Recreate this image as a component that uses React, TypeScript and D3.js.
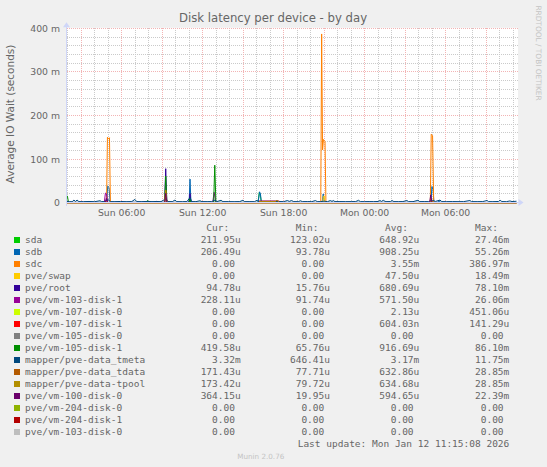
import React from "react";
import * as d3 from "d3";

// ---------- DATA ----------
const names = [
  "sda", "sdb", "sdc", "pve/swap", "pve/root", "pve/vm-103-disk-1",
  "pve/vm-107-disk-0", "pve/vm-107-disk-1", "pve/vm-105-disk-0", "pve/vm-105-disk-1",
  "mapper/pve-data_tmeta", "mapper/pve-data_tdata", "mapper/pve-data-tpool",
  "pve/vm-100-disk-0", "pve/vm-204-disk-0", "pve/vm-204-disk-1", "pve/vm-103-disk-0",
];
const colors = [
  "#00CC00", "#0066B3", "#FF8000", "#FFCC00", "#330099", "#990099",
  "#CCFF00", "#FF0000", "#808080", "#008F00", "#00487D", "#B35A00",
  "#B38F00", "#6B006B", "#8FB300", "#B30000", "#BEBEBE",
];
const curVals = ["211.95u", "206.49u", "0.00", "0.00", "94.78u", "228.11u", "0.00", "0.00", "0.00", "419.58u", "3.32m", "171.43u", "173.42u", "364.15u", "0.00", "0.00", "0.00"];
const minVals = ["123.02u", "93.78u", "0.00", "0.00", "15.76u", "91.74u", "0.00", "0.00", "0.00", "65.76u", "646.41u", "77.71u", "79.72u", "19.95u", "0.00", "0.00", "0.00"];
const avgVals = ["648.92u", "908.25u", "3.55m", "47.50u", "680.69u", "571.50u", "2.13u", "604.03n", "0.00", "916.69u", "3.17m", "632.86u", "634.68u", "594.65u", "0.00", "0.00", "0.00"];
const maxVals = ["27.46m", "55.26m", "386.97m", "18.49m", "78.10m", "26.06m", "451.06u", "141.29u", "0.00", "86.10m", "11.75m", "28.85m", "28.85m", "22.39m", "0.00", "0.00", "0.00"];

// series: [minutes since start, value in ms]
const sda: [number, number][] = [[0, 0.5], [540, 0.5], [545, 1], [549, 11], [553, 0.8], [851, 0.6], [857, 24], [861, 19], [866, 0.6], [1620, 0.6], [1624, 3], [1628, 0.5], [2000, 0.3]];
const sdb: [number, number][] = [[0, 0.8], [175, 0.8], [179, 1.5], [183, 38], [189, 35], [194, 1], [540, 0.8], [545, 2], [549, 54], [553, 2], [556, 0.8], [852, 0.8], [858, 25], [862, 20], [866, 0.8], [1136, 0.8], [1141, 20], [1146, 1], [1616, 0.8], [1620, 2], [1624, 37], [1629, 30], [1633, 1], [1650, 0.9], [1656, 5], [1661, 0.8], [2000, 0.5]];
const sdc: [number, number][] = [[0, 0], [178, 0], [182, 150], [186, 146], [191, 149], [195, 0], [1130, 0], [1134, 387], [1138, 121], [1142, 145], [1149, 140], [1153, 0], [1617, 0], [1621, 157], [1627, 154], [1632, 0], [2000, 0]];
const swap: [number, number][] = [[0, 0], [1138, 0], [1141, 14], [1145, 16], [1148, 0], [2000, 0]];
const root: [number, number][] = [[0, 0.5], [430, 0.5], [436, 2], [441, 78], [446, 2], [450, 0.5], [540, 0.5], [545, 3], [549, 21], [553, 2], [556, 0.5], [2000, 0.1]];
const vm103d1: [number, number][] = [[0, 0.5], [168, 0.5], [173, 22], [178, 20], [183, 0.6], [395, 0.5], [401, 3], [406, 0.5], [436, 0.5], [441, 10], [446, 0.5], [650, 0.5], [656, 24], [664, 0.5], [850, 0.5], [856, 4], [900, 4], [945, 4], [950, 0.5], [1975, 0.5], [1980, 2], [1986, 0.5], [2000, 0.2]];
const vm107d0: [number, number][] = [[0, 0], [2000, 0]];
const vm107d1: [number, number][] = [[0, 0], [2000, 0]];
const vm105d0: [number, number][] = [[0, 0], [2000, 0]];
const vm105d1: [number, number][] = [[0, 15], [4, 15], [9, 0.5], [355, 0.5], [360, 5], [366, 0.5], [436, 0.5], [441, 61], [446, 0.5], [545, 0.5], [549, 10], [553, 0.5], [654, 0.5], [659, 86], [664, 0.5], [2000, 0.4]];
const tmeta: [number, number][] = [[0, 2.8], [12, 2.5], [25, 2.2], [33, 6], [40, 3], [47, 6], [55, 2.5], [75, 2.4], [100, 2.8], [125, 2.3], [149, 4.5], [156, 2.5], [170, 2.6], [185, 7], [195, 2.5], [215, 2.4], [240, 2.8], [265, 2.3], [290, 2.6], [304, 7.5], [312, 2.6], [335, 2.4], [362, 3], [380, 2.5], [402, 2.8], [420, 2.4], [442, 9], [450, 2.6], [470, 2.4], [482, 6], [490, 2.5], [515, 2.3], [535, 2.6], [549, 11.75], [556, 2.6], [575, 2.4], [593, 4.5], [602, 2.5], [625, 2.4], [645, 2.6], [660, 6], [668, 2.5], [687, 5.5], [695, 2.4], [720, 2.5], [745, 2.3], [770, 2.6], [784, 5.5], [792, 2.4], [815, 2.5], [835, 2.4], [847, 5.5], [853, 2.6], [870, 2.5], [895, 2.6], [920, 2.4], [945, 2.7], [965, 2.4], [982, 5], [990, 3], [1000, 5], [1010, 2.5], [1030, 2.4], [1040, 4.5], [1048, 2.5], [1070, 2.6], [1090, 2.4], [1107, 5], [1114, 2.5], [1130, 2.6], [1145, 3.5], [1160, 2.4], [1173, 5], [1180, 3], [1186, 5], [1193, 2.5], [1215, 2.6], [1240, 2.4], [1265, 2.5], [1285, 2.6], [1298, 5.5], [1306, 2.5], [1325, 2.4], [1345, 2.6], [1365, 2.4], [1385, 2.8], [1393, 5], [1400, 3], [1408, 5.5], [1416, 3], [1424, 2.5], [1440, 2.6], [1447, 5], [1455, 2.5], [1475, 2.4], [1495, 2.6], [1513, 5], [1520, 2.5], [1540, 2.4], [1562, 5.5], [1570, 2.5], [1590, 2.6], [1610, 2.4], [1624, 6], [1640, 3], [1660, 6], [1668, 2.5], [1690, 2.4], [1715, 2.6], [1740, 2.4], [1765, 2.5], [1793, 5], [1800, 2.5], [1825, 2.4], [1850, 2.6], [1869, 5], [1876, 2.5], [1895, 2.4], [1920, 2.8], [1927, 5.5], [1935, 2.6], [1955, 2.4], [1971, 4], [1980, 2.6], [2000, 3.3]];
const tdata: [number, number][] = [[0, 0.3], [436, 0.3], [441, 28], [446, 0.3], [855, 0.3], [858, 3], [930, 3], [935, 6], [940, 3], [948, 0.3], [1619, 0.3], [1623, 5], [1627, 0.3], [2000, 0.2]];
const tpool: [number, number][] = [[0, 0.3], [436, 0.3], [441, 28.8], [446, 0.3], [855, 0.3], [858, 3], [930, 3], [935, 6], [940, 3], [948, 0.3], [1619, 0.3], [1623, 5], [1627, 0.3], [2000, 0.2]];
const vm100d0: [number, number][] = [[0, 0.5], [172, 0.5], [177, 10], [182, 0.5], [436, 0.5], [441, 21.5], [446, 0.5], [1614, 0.5], [1619, 18], [1624, 0.5], [2000, 0.4]];
const vm204d0: [number, number][] = [[0, 0], [2000, 0]];
const vm204d1: [number, number][] = [[0, 0], [2000, 0]];
const vm103d0: [number, number][] = [[0, 0], [2000, 0]];

const seriesData = [sda, sdb, sdc, swap, root, vm103d1, vm107d0, vm107d1, vm105d0, vm105d1, tmeta, tdata, tpool, vm100d0, vm204d0, vm204d1, vm103d0];

const yTickValues = [0, 100, 200, 300, 400];
const xLabelHours = 6;
const startTime = new Date(2026, 0, 11, 1, 55, 8);
const endTime = new Date(2026, 0, 12, 11, 15, 8);

// ---------- LAYOUT ----------
const W = 547, H = 467;
const L = 66.5, R = 516.5, T = 28.3, B = 202.7;
const SANS = "'DejaVu Sans', sans-serif";
const MONO = "'DejaVu Sans Mono', monospace";
const TXT = "#666666";
const MINOR = "#CACACA";
const MAJOR = "#F2B4B4";
const AXIS = "#CFD6F8";

export default function App() {
  const x = d3.scaleTime().domain([startTime, endTime]).range([L, R]);
  const y = d3.scaleLinear().domain([0, 400]).range([B, T]);
  const toDate = (m: number) => new Date(startTime.getTime() + m * 60000);
  const line = d3.line<[number, number]>().x((d) => x(toDate(d[0]))).y((d) => y(d[1]));

  const minorY = d3.range(0, 401, 20);
  const hoursMinor = d3.timeHour.every(1)!.range(startTime, endTime);
  const hoursMajor = d3.timeHour.every(3)!.range(startTime, endTime);
  const hoursLabel = d3.timeHour.every(xLabelHours)!.range(startTime, endTime);
  const fmt = d3.timeFormat("%a %H:%M");

  const cw = 5.72;
  const colEnds = [240.7, 330, 419.3, 509.3];
  const headers = ["Cur:", "Min:", "Avg:", "Max:"];
  const cols = [curVals, minVals, avgVals, maxVals];
  const rowY = (i: number) => 243 + 12 * i;
  const valEnd = (s: string, c: number) => (/[a-zA-Z]$/.test(s) ? colEnds[c] : colEnds[c] - cw);
  const py = (v: number) => Math.floor(y(v)) + 0.5;
  const px = (h: Date) => Math.floor(x(h)) + 0.5;

  return (
    <svg width={W} height={H} style={{ position: "absolute", left: 0, top: 0 }} xmlns="http://www.w3.org/2000/svg">
      <rect x={0} y={0} width={W} height={H} fill="#F0F0F0" />
      <rect x={L} y={T - 0.5} width={R - L + 1.5} height={B - T + 0.5} fill="#FFFFFF" />
      <g shapeRendering="crispEdges">
        {minorY.filter((v) => v % 100 !== 0).map((v) => (
          <line key={"my" + v} x1={L} x2={R + 1.5} y1={py(v)} y2={py(v)} stroke={MINOR} strokeDasharray="1,1" />
        ))}
        {hoursMinor.filter((h) => h.getHours() % 3 !== 0).map((h) => (
          <line key={"mx" + h.getTime()} x1={px(h)} x2={px(h)} y1={T} y2={B} stroke={MINOR} strokeDasharray="1,1" />
        ))}
        {yTickValues.map((v) => (
          <line key={"My" + v} x1={L} x2={R + 1.5} y1={py(v)} y2={py(v)} stroke={MAJOR} strokeDasharray="1,1" />
        ))}
        {hoursMajor.map((h) => (
          <line key={"Mx" + h.getTime()} x1={px(h)} x2={px(h)} y1={T} y2={B} stroke={MAJOR} strokeDasharray="1,1" />
        ))}
      </g>
      {seriesData.map((s, i) => (
        <path key={"s" + i} d={line(s) || ""} fill="none" stroke={colors[i]} strokeWidth={1} />
      ))}
      <g shapeRendering="crispEdges">
        <line x1={L} x2={R + 3} y1={py(0)} y2={py(0)} stroke={AXIS} />
        <line x1={Math.floor(L) + 0.5} x2={Math.floor(L) + 0.5} y1={B + 3} y2={T - 4} stroke={AXIS} />
      </g>
      <path d={`M${R + 2},${py(0) - 3.5} L${R + 7},${py(0)} L${R + 2},${py(0) + 3.5} Z`} fill={AXIS} />
      <path d={`M${L - 3.5},${T - 1} L${L},${T - 6} L${L + 3.5},${T - 1} Z`} fill={AXIS} />
      {yTickValues.map((v) => (
        <text key={"yl" + v} x={60} y={y(v) + 3.4} textAnchor="end" fontFamily={SANS} fontSize={9.3} fill={TXT}>
          {v === 0 ? "0" : `${v} m`}
        </text>
      ))}
      {hoursLabel.map((h) => (
        <text key={"xl" + h.getTime()} x={x(h)} y={215.5} textAnchor="middle" fontFamily={SANS} fontSize={9.3} fill={TXT}>
          {fmt(h)}
        </text>
      ))}
      <text x={273} y={22} textAnchor="middle" fontFamily={SANS} fontSize={11.7} fill={TXT}>
        Disk latency per device - by day
      </text>
      <text transform={`translate(14,114) rotate(-90)`} textAnchor="middle" fontFamily={SANS} fontSize={10.5} fill={TXT}>
        Average IO Wait (seconds)
      </text>
      <text transform={`translate(535.5,53) rotate(90)`} textAnchor="middle" fontFamily={SANS} fontSize={7.4} fill="#C4C4C4">
        RRDTOOL / TOBI OETIKER
      </text>
      {headers.map((h, c) => (
        <text key={"h" + c} x={colEnds[c] - 2 * cw} y={231} textAnchor="end" fontFamily={MONO} fontSize={9.5} fill={TXT}>{h}</text>
      ))}
      {names.map((n, i) => (
        <g key={"lg" + i}>
          <rect x={14} y={rowY(i) - 6} width={6} height={6} fill={colors[i]} />
          <text x={25} y={rowY(i)} fontFamily={MONO} fontSize={9.5} fill={TXT}>{n}</text>
          {cols.map((col, c) => (
            <text key={c} x={valEnd(col[i], c)} y={rowY(i)} textAnchor="end" fontFamily={MONO} fontSize={9.5} fill={TXT}>{col[i]}</text>
          ))}
        </g>
      ))}
      <text x={509.3} y={446.5} textAnchor="end" fontFamily={MONO} fontSize={9.5} fill={TXT}>
        Last update: Mon Jan 12 11:15:08 2026
      </text>
      <text x={260.8} y={458.5} textAnchor="middle" fontFamily={SANS} fontSize={7.2} fill="#C4C4C4">
        Munin 2.0.76
      </text>
    </svg>
  );
}
